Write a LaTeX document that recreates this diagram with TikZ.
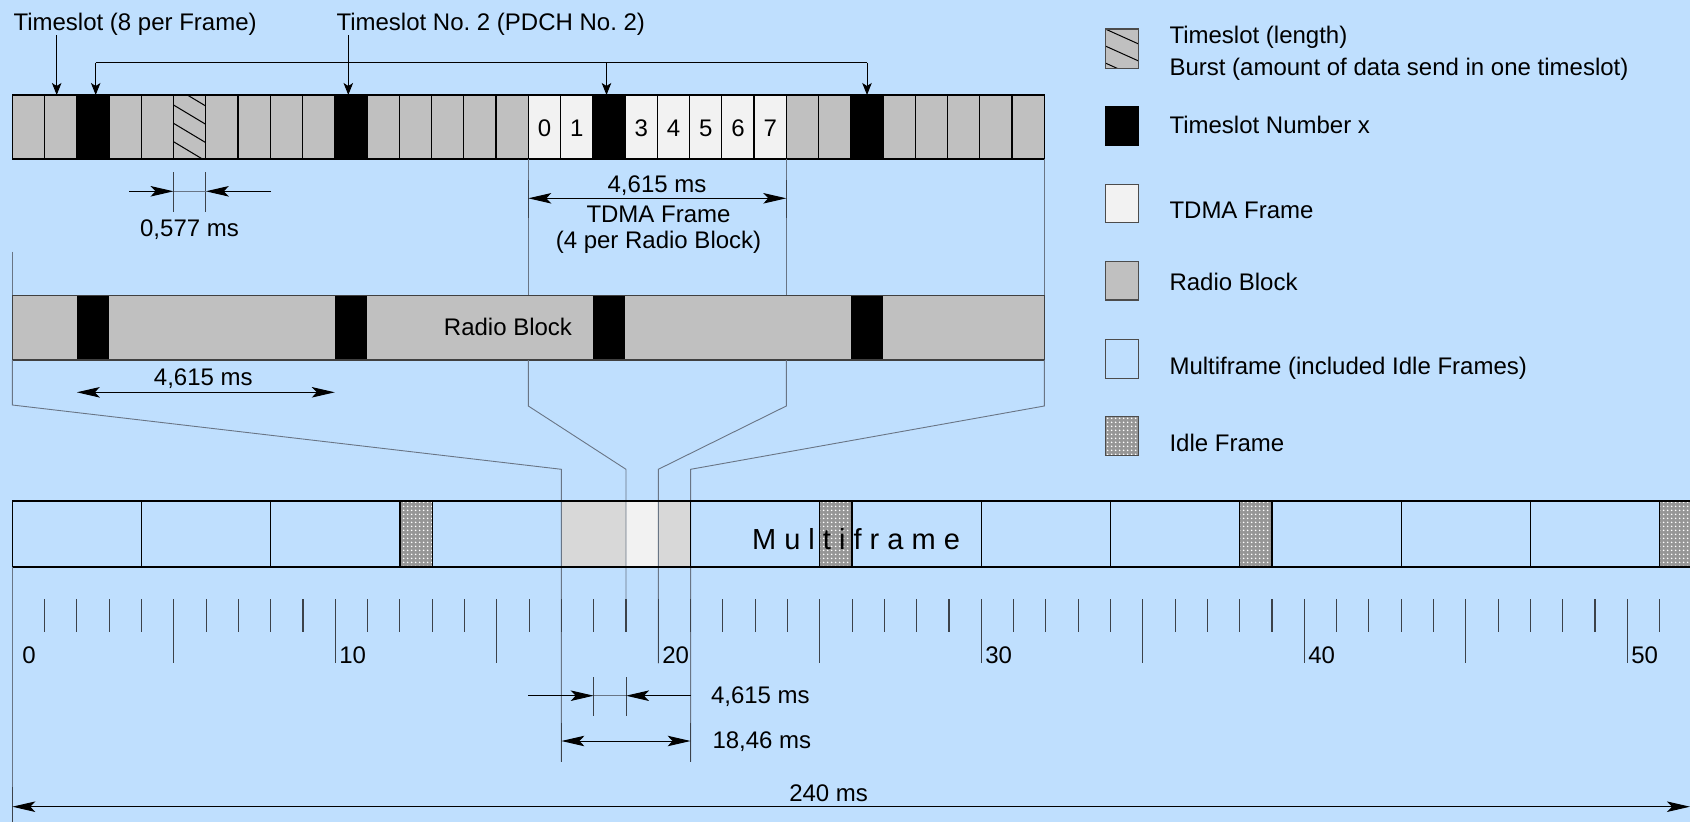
\documentclass[tikz,border=0pt]{standalone}
\usepackage{fontspec}
\setmainfont{Liberation Sans}
\usetikzlibrary{arrows.meta,patterns.meta}
\definecolor{bgblue}{RGB}{191,223,254}
\definecolor{cellgray}{RGB}{192,192,192}
\definecolor{tdmawhite}{RGB}{242,242,242}
\definecolor{mfgray}{RGB}{216,216,216}
\definecolor{idlegray}{RGB}{150,150,150}
\definecolor{guidegray}{RGB}{105,117,133}
\definecolor{tickgray}{RGB}{60,66,74}
\def\tx#1{12.3+32.25*(#1)}
\def\mx#1{12.3+32.3*(#1)}
\begin{document}
\frenchspacing
\begin{tikzpicture}[x=1pt,y=-1pt,
  font=\fontsize{24}{29}\selectfont,
  txt/.style={inner sep=0pt, outer sep=0pt},
  slotline/.style={draw=black, line width=1.3pt},
  guide/.style={draw=guidegray, line width=0.9pt},
  ext/.style={draw=tickgray, line width=1.2pt},
  tickmark/.style={draw=tickgray, line width=1.1pt},
  pointer/.style={draw=black, line width=1pt, -{Stealth[length=12pt,width=9.5pt,inset=3pt]}},
  dimone/.style={draw=black, line width=1pt, -{Stealth[length=23pt,width=10.5pt,inset=5pt]}},
  dimboth/.style={draw=black, line width=1pt, {Stealth[length=23pt,width=10.5pt,inset=5pt]}-{Stealth[length=23pt,width=10.5pt,inset=5pt]}},
  idle/.style={fill=idlegray, postaction={pattern={Dots[distance=4pt,radius=1.05pt]}, pattern color=white}},
  legbox/.style={draw=black!70, line width=1.3pt},
]
\fill[bgblue] (0,0) rectangle (1690,822);
\useasboundingbox (0,0) rectangle (1690,822);

% ---------- top bar (timeslots) ----------
\fill[cellgray] ({\tx{0}},95) rectangle ({\tx{32}},159);
\fill[tdmawhite] ({\tx{16}},95) rectangle ({\tx{24}},159);
\foreach \i in {2,10,18,26} \fill[black] ({\tx{\i}},95) rectangle ({\tx{\i+1}},159);
\begin{scope}
  \clip ({\tx{5}},95) rectangle ({\tx{6}},159);
  \foreach \yy in {86.7,105,123.3,141.7} \draw[line width=1pt] ({\tx{5}},\yy) -- ++(40,24);
\end{scope}
\foreach \i in {1,...,31} \draw[slotline] ({\tx{\i}},95) -- ({\tx{\i}},159);
\draw[slotline] ({\tx{0}},95) rectangle ({\tx{32}},159);
\foreach \i/\d in {16/0,17/1,19/3,20/4,21/5,22/6,23/7}
  \node[txt, anchor=base] (dig\d) at ({\tx{\i+0.5}},136) {\d};

% ---------- top labels and pointers ----------
\node[txt,anchor=base west] (lblslot) at (13.5,30.5) {Timeslot (8 per Frame)};
\node[txt,anchor=base west] (lblpdch) at (336.5,30.5) {Timeslot No. 2 (PDCH No. 2)};
\coordinate (p1) at (56.7,95);
\coordinate (p2) at (95.7,95);
\coordinate (p3) at (348.3,95);
\coordinate (p4) at (606.5,95);
\coordinate (p5) at (867,95);
\coordinate (brL) at (95.7,62.7);
\coordinate (brR) at (867,62.7);
\draw[pointer] (lblslot.south -| p1) -- (p1);
\draw[pointer] (lblpdch.south -| p3) -- (p3);
\draw[line width=1pt] (brL) -- (brR);
\draw[pointer] (brL) -- (p2);
\draw[pointer] (brL -| p4) -- (p4);
\draw[pointer] (brR) -- (p5);

% ---------- 0,577 ms ----------
\draw[ext,line width=1pt] ({\tx{5}},172.3) -- ({\tx{5}},211.7);
\draw[ext,line width=1pt] ({\tx{6}},172.3) -- ({\tx{6}},211.7);
\draw[guide] ({\tx{5}},191.3) -- ({\tx{6}},191.3);
\draw[dimone] (129.3,191.3) -- ({\tx{5}},191.3);
\draw[dimone] (271,191.3) -- ({\tx{6}},191.3);
\node[txt,anchor=base] (d577) at (189.5,236.7) {0,577 ms};

% ---------- TDMA frame dimension ----------
\draw[guide] ({\tx{0}},251.7) -- ({\tx{0}},295.7);
\draw[guide] ({\tx{16}},159) -- ({\tx{16}},295.7);
\draw[guide] ({\tx{24}},159) -- ({\tx{24}},295.7);
\draw[guide] ({\tx{32}},159) -- ({\tx{32}},295.7);
\draw[ext] ({\tx{16}},180) -- ({\tx{16}},218.3);
\draw[ext] ({\tx{24}},180) -- ({\tx{24}},218.3);
\draw[dimboth] ({\tx{16}},198.3) -- ({\tx{24}},198.3);
\node[txt,anchor=base] (dtdma) at (657,192) {4,615 ms};
\node[txt,anchor=base] (ltdma) at (658.5,222.7) {TDMA Frame};
\node[txt,anchor=base] (ltdmb) at (658.5,248.5) {(4 per Radio Block)};

% ---------- radio block ----------
\fill[cellgray] ({\tx{0}},295.7) rectangle ({\tx{32}},360);
\foreach \i in {2,10,18,26} \fill[black] ({\tx{\i}},295.7) rectangle ({\tx{\i+1}},360);
\draw[draw=black!75, line width=1.3pt] ({\tx{0}},295.7) rectangle ({\tx{32}},360);
\node[txt,anchor=base] (lrb) at (508,335.5) {Radio Block};
\draw[dimboth] ({\tx{2}},392.3) -- ({\tx{10}},392.3);
\node[txt,anchor=base] (drb) at (203.3,385) {4,615 ms};

% ---------- multiframe fills ----------
\fill[mfgray] ({\mx{17}},501) rectangle ({\mx{21}},567);
\fill[tdmawhite] ({\mx{19}},501) rectangle ({\mx{20}},567);
\foreach \f in {12,25,38,51} \path[idle] ({\mx{\f}},501) rectangle ({\mx{\f+1}},567);

% ---------- guide (zoom) lines ----------
\draw[guide] ({\tx{0}},360) -- ({\tx{0}},405) -- ({\mx{17}},469.3) -- ({\mx{17}},761.7);
\draw[guide] ({\tx{16}},360) -- ({\tx{16}},406) -- ({\mx{19}},469.3) -- ({\mx{19}},631.7);
\draw[guide] ({\tx{24}},360) -- ({\tx{24}},406) -- ({\mx{20}},469.3) -- ({\mx{20}},663.3);
\draw[guide] ({\tx{32}},360) -- ({\tx{32}},406) -- ({\mx{21}},469.3) -- ({\mx{21}},761.7);

% ---------- multiframe outline ----------
\foreach \f in {4,8,12,13,21,25,26,30,34,38,39,43,47,51}
  \draw[slotline] ({\mx{\f}},501) -- ({\mx{\f}},567);
\draw[slotline] (1690,501) -- ({\mx{0}},501) -- ({\mx{0}},567) -- (1690,567);
\node[txt,anchor=base,font=\fontsize{29}{34}\selectfont] (lmf) at (856,549.3) {M u l t i f r a m e};

% ---------- scale ----------
\foreach \f in {0,...,51} {
  \pgfmathsetmacro\tl{ifthenelse(mod(\f,5)==0,663.3,631.7)}
  \draw[tickmark] ({\mx{\f}},599) -- ({\mx{\f}},\tl);
}
\node[txt,anchor=base west] (n0) at ({\mx{0}+10},663.3) {0};
\foreach \f in {10,20,30,40,50}
  \node[txt,anchor=base west] (n\f) at ({\mx{\f}+4},663.3) {\f};

% ---------- bottom dimensions ----------
\draw[tickmark,line width=1pt] ({\mx{18}},677.3) -- ({\mx{18}},716);
\draw[tickmark,line width=1pt] ({\mx{19}},677.3) -- ({\mx{19}},716);
\draw[guide] ({\mx{18}},695.7) -- ({\mx{19}},695.7);
\draw[dimone] (528.3,695.7) -- ({\mx{18}},695.7);
\draw[dimone] ({\mx{21}},695.7) -- ({\mx{19}},695.7);
\node[txt,anchor=base west] (dfr) at (711,703.3) {4,615 ms};

\draw[ext] ({\mx{17}},722.7) -- ({\mx{17}},761.7);
\draw[ext] ({\mx{21}},722.7) -- ({\mx{21}},761.7);
\draw[dimboth] ({\mx{17}},741) -- ({\mx{21}},741);
\node[txt,anchor=base west] (drbk) at (712.5,748.3) {18,46 ms};

\draw[guide] ({\mx{0}},567) -- ({\mx{0}},822);
\draw[ext] ({\mx{0}},787) -- ({\mx{0}},822);
\coordinate (mfL) at ({\mx{0}},806.7);
\coordinate (mfR) at (1690,806.7);
\draw[dimboth] (mfL) -- (mfR);
\node[txt,anchor=base] (d240) at (828.6,801) {240 ms};

% ---------- legend ----------
\fill[cellgray] (1105.3,29) rectangle (1138.4,68.3);
\begin{scope}
  \clip (1105.3,29) rectangle (1138.4,68.3);
  \foreach \yy in {29,46,63} \draw[line width=1pt] (1105.3,\yy) -- ++(40,18);
\end{scope}
\draw[legbox] (1105.3,29) rectangle (1138.4,68.3);
\path[fill=black,draw=black,line width=1.3pt] (1105.3,106.7) rectangle (1138.4,145.7);
\path[fill=tdmawhite,legbox] (1105.3,184.3) rectangle (1138.4,222.7);
\path[fill=cellgray,legbox] (1105.3,261.7) rectangle (1138.4,300);
\path[legbox] (1105.3,339.3) rectangle (1138.4,378.3);
\path[idle] (1105.3,416.7) rectangle (1138.4,455.7);
\draw[legbox] (1105.3,416.7) rectangle (1138.4,455.7);

\node[txt,anchor=base west] (lg1) at (1169.5,43.3) {Timeslot (length)};
\node[txt,anchor=base west] (lg2) at (1169.5,75) {Burst (amount of data send in one timeslot)};
\node[txt,anchor=base west] (lg3) at (1169.5,133.3) {Timeslot Number x};
\node[txt,anchor=base west] (lg4) at (1169.5,218.3) {TDMA Frame};
\node[txt,anchor=base west] (lg5) at (1169.5,290) {Radio Block};
\node[txt,anchor=base west] (lg6) at (1169.5,374) {Multiframe (included Idle Frames)};
\node[txt,anchor=base west] (lg7) at (1169.5,451.7) {Idle Frame};
\end{tikzpicture}
\end{document}
